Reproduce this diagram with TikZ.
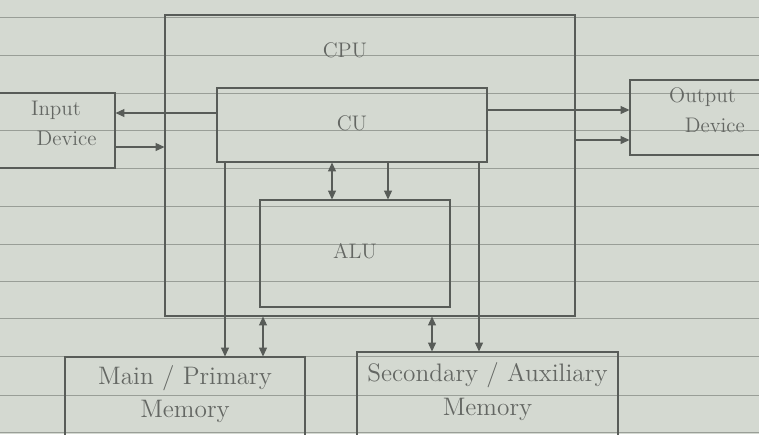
\documentclass[tikz,border=0pt]{standalone}
\usepackage{xcolor}
\usepackage{tikz}
\usetikzlibrary{arrows.meta,positioning,fit}

\definecolor{paper}{RGB}{212,217,209}
\definecolor{ruled}{RGB}{105,110,104}
\definecolor{pencil}{RGB}{88,92,88}
\definecolor{lead}{RGB}{100,103,99}

\begin{document}
\begin{tikzpicture}[x=0.02cm,y=-0.02cm,
  every node/.style={font=\large,text=lead},
  box/.style={draw=pencil,semithick,inner sep=0pt,align=center},
  arr/.style={draw=pencil,semithick,-{Triangle[length=5pt,width=4.5pt]}},
  dbl/.style={draw=pencil,semithick,{Triangle[length=5pt,width=4.5pt]}-{Triangle[length=5pt,width=4.5pt]}}]
\useasboundingbox[fill=paper] (0,0) rectangle (759,434);
% ruled sheet
\foreach \y in {17,55,93,130,168,206,244,281,318,356,395,432}{
  \draw[ruled!55!paper, thin] (0,\y) -- (759,\y);
}
% boxes
\node[box, fit={(165,15) (575,316)}] (cpu) {};
\node at (345,50) (cpulbl) {CPU};
\node[box, fit={(217,88) (487,162)}] (cu) {\raisebox{-6pt}{CU}};
\node[box, fit={(260,200) (450,307)}] (alu) {\raisebox{-6pt}{ALU}};
\node[box, fit={(-3,93) (115,168)}] (inp) {Input\\[3pt]\hspace*{12pt}Device};
\node[box, fit={(630,80) (775,155)}] (outp) {Output\\[3pt]\hspace*{14pt}Device};
\node[box, font=\Large, fit={(65,357) (305,450)}] (mainmem) {Main / Primary\\[1pt]Memory};
\node[box, font=\Large, fit={(357,352) (618,450)}] (secmem) {Secondary / Auxiliary\\[1pt]Memory};
% connectors
\draw[arr] (cu.west |- 0,113) -- (inp.east |- 0,113);
\draw[arr] (inp.east |- 0,147) -- (cpu.west |- 0,147);
\draw[arr] (cu.east |- 0,110) -- (outp.west |- 0,110);
\draw[arr] (cpu.east |- 0,140) -- (outp.west |- 0,140);
\draw[dbl] (cu.south -| 332,0) -- (alu.north -| 332,0);
\draw[arr] (cu.south -| 388,0) -- (alu.north -| 388,0);
\draw[arr] (cu.south -| 225,0) -- (mainmem.north -| 225,0);
\draw[dbl] (cpu.south -| 263,0) -- (mainmem.north -| 263,0);
\draw[dbl] (cpu.south -| 432,0) -- (secmem.north -| 432,0);
\draw[arr] (cu.south -| 479,0) -- (secmem.north -| 479,0);
\end{tikzpicture}
\end{document}
